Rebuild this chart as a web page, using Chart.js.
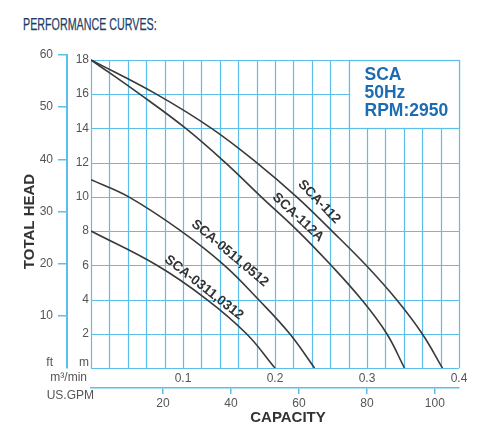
<!DOCTYPE html>
<html>
<head>
<meta charset="utf-8">
<script src="https://cdn.jsdelivr.net/npm/chart.js@4.4.1/dist/chart.umd.min.js"></script>
<style>
    html, body { margin: 0; padding: 0; background: #fff; }
    #wrap { position: relative; width: 486px; height: 437px; overflow: hidden; }
    #heading {
        position: absolute; left: 23px; top: 16px;
        font-family: "Liberation Sans Narrow", "Liberation Sans", sans-serif;
        font-size: 17px; line-height: 17px; color: #1e3d66;
        -webkit-text-stroke: 0.25px #1e3d66;
        white-space: nowrap; transform-origin: left top; transform: scaleX(0.63);
    }
    #chart { position: absolute; left: 0; top: 0; }
</style>
</head>
<body>
<div id="wrap">
    <div id="heading">PERFORMANCE CURVES:</div>
    <canvas id="chart" width="486" height="437"></canvas>
</div>
<script>
// ========================================
// Data (capacity m3/min, total head m)
// ========================================
const curveNames = ['SCA-112', 'SCA-112A', 'SCA-0511,0512', 'SCA-0311,0312'];

const flow112  = [0, 0.071, 0.131, 0.180, 0.2235, 0.262, 0.299, 0.332, 0.360, 0.382];
const head112  = [18, 16, 14, 12, 10, 8, 6, 4, 2, 0];
const flow112A = [0, 0.053, 0.103, 0.146, 0.185, 0.225, 0.261, 0.294, 0.3215, 0.3407];
const head112A = [18, 16, 14, 12, 10, 8, 6, 4, 2, 0];
const flow0511 = [0, 0.041, 0.098, 0.145, 0.182, 0.216, 0.243];
const head0511 = [11, 10, 8, 6, 4, 2, 0];
const flow0311 = [0, 0.0716, 0.126, 0.169, 0.200];
const head0311 = [8, 6, 4, 2, 0];

const headTicksM  = [0, 2, 4, 6, 8, 10, 12, 14, 16, 18];
const headTicksFt = [10, 20, 30, 40, 50, 60];
const flowTicks   = [0.1, 0.2, 0.3, 0.4];
const gpmTicks    = [20, 40, 60, 80, 100];
const infoLines   = ['SCA', '50Hz', 'RPM:2950'];

const FT_PER_M = 3.28084;
const BLUE = '#5cbfea';
const FONT = '"Liberation Sans", Arial, sans-serif';

function toPoints(xs, ys) {
    return xs.map((v, i) => ({ x: v, y: ys[i] }));
}

const curves = [
    toPoints(flow112, head112),
    toPoints(flow112A, head112A),
    toPoints(flow0511, head0511),
    toPoints(flow0311, head0311)
];

// ========================================
// Grid, info box and labels
// ========================================
const pumpSheet = {
    id: 'pumpSheet',
    beforeDatasetsDraw(chart) {
        const { ctx, scales: { x, y } } = chart;
        const x0 = x.getPixelForValue(0), x1 = x.getPixelForValue(0.4);
        const y0 = y.getPixelForValue(0), y1 = y.getPixelForValue(18);
        ctx.save();
        ctx.strokeStyle = BLUE;
        ctx.lineWidth = 1.2;
        ctx.beginPath();
        for (let i = 0; i <= 20; i++) {
            const px = Math.round(x.getPixelForValue(i * 0.02)) + 0.5;
            ctx.moveTo(px, y0); ctx.lineTo(px, y1);
        }
        for (let i = 0; i <= 9; i++) {
            const py = Math.round(y.getPixelForValue(i * 2)) + 0.5;
            ctx.moveTo(x0, py); ctx.lineTo(x1, py);
        }
        ctx.stroke();

        // info box
        const bx = Math.round(x.getPixelForValue(0.28)) + 0.5;
        const by = Math.round(y.getPixelForValue(14)) + 0.5;
        const ty = Math.round(y1) + 0.5;
        ctx.fillStyle = '#fff';
        ctx.fillRect(bx, ty, x1 - bx, by - ty);
        ctx.strokeRect(bx, ty, Math.round(x1) + 0.5 - bx, by - ty);
        ctx.fillStyle = '#1c6cb3';
        ctx.font = 'bold 17.5px ' + FONT;
        ctx.textBaseline = 'middle';
        ctx.textAlign = 'left';
        infoLines.forEach((t, i) => ctx.fillText(t, bx + 15, ty + 14.5 + i * 18.3));
        ctx.restore();
    },
    afterDatasetsDraw(chart) {
        const { ctx, chartArea, scales: { x, y, y2 } } = chart;
        ctx.save();
        // curve names
        const spots = [[0.248, 9.7, 46], [0.225, 8.8, 43], [0.151, 6.7, 40], [0.1228, 4.7, 38]];
        ctx.fillStyle = '#333';
        ctx.font = 'bold 13.5px ' + FONT;
        ctx.textAlign = 'center';
        ctx.textBaseline = 'middle';
        curveNames.forEach((name, i) => {
            const [fx, fy, rot] = spots[i];
            ctx.save();
            ctx.translate(x.getPixelForValue(fx), y.getPixelForValue(fy));
            ctx.rotate(rot * Math.PI / 180);
            ctx.fillText(name, 0, 0);
            ctx.restore();
        });

        // unit labels
        ctx.fillStyle = '#555';
        ctx.font = '12px ' + FONT;
        ctx.textAlign = 'right';
        ctx.fillText('ft', y2.right - 14, chartArea.bottom - 5);
        ctx.fillText('m', y.right - 2, chartArea.bottom - 5);
        ctx.fillText('m\u00b3/min', chartArea.left - 4, chartArea.bottom + 10);
        ctx.fillText('US.GPM', chartArea.left + 3, chartArea.bottom + 28);

        // axis names
        ctx.fillStyle = '#333';
        ctx.font = 'bold 15px ' + FONT;
        ctx.textAlign = 'center';
        ctx.fillText('CAPACITY', (chartArea.left + chartArea.right) / 2 + 13, chartArea.bottom + 50);
        ctx.translate(y2.left + 18, (chartArea.top + chartArea.bottom) / 2 + 10);
        ctx.rotate(-Math.PI / 2);
        ctx.fillText('TOTAL HEAD', 0, 0);
        ctx.restore();
    }
};

// ========================================
// Chart
// ========================================
const setTicks = list => scale => { scale.ticks = list.map(v => ({ value: v })); };

new Chart(document.getElementById('chart'), {
    type: 'scatter',
    data: {
        datasets: curves.map((pts, i) => ({
            label: curveNames[i],
            data: pts,
            showLine: true,
            borderColor: '#3a3a3a',
            borderWidth: 1.6,
            pointRadius: 0,
            tension: 0.4,
            xAxisID: 'x',
            yAxisID: 'y'
        }))
    },
    options: {
        responsive: false,
        animation: false,
        layout: { padding: { left: 12, top: 55, right: 27, bottom: 10 } },
        plugins: {
            legend: { display: false },
            tooltip: { enabled: false }
        },
        scales: {
            x: {
                type: 'linear', position: 'bottom', weight: 0,
                min: 0, max: 0.4,
                afterBuildTicks: setTicks(flowTicks),
                afterFit: s => { s.height = 20; },
                grid: { display: false, drawTicks: false },
                border: { display: false },
                ticks: { padding: 3, color: '#555', font: { size: 12, family: FONT }, maxRotation: 0, autoSkip: false }
            },
            x2: {
                type: 'linear', position: 'bottom', weight: 1,
                min: -1.2, max: 107.1,
                afterBuildTicks: setTicks(gpmTicks),
                afterFit: s => { s.height = 39; },
                grid: { drawOnChartArea: false, drawTicks: true, tickLength: 6, color: BLUE, lineWidth: 1.5 },
                border: { display: true, color: BLUE, width: 1.5 },
                ticks: { padding: 2, color: '#555', font: { size: 12, family: FONT }, maxRotation: 0, autoSkip: false }
            },
            y: {
                type: 'linear', position: 'left', weight: 0,
                min: 0, max: 60 / FT_PER_M,
                afterBuildTicks: setTicks(headTicksM),
                afterFit: s => { s.width = 24; },
                grid: { display: false, drawTicks: false },
                border: { display: false },
                ticks: { padding: 2, color: '#555', font: { size: 12, family: FONT }, autoSkip: false,
                         callback: v => v === 0 ? '' : v }
            },
            y2: {
                type: 'linear', position: 'left', weight: 1,
                min: 0, max: 60,
                afterBuildTicks: setTicks(headTicksFt),
                afterFit: s => { s.width = 55; },
                grid: { drawOnChartArea: false, drawTicks: true, tickLength: 9, color: BLUE, lineWidth: 1.5 },
                border: { display: true, color: BLUE, width: 2 },
                ticks: { padding: 5, color: '#555', font: { size: 12, family: FONT }, autoSkip: false }
            }
        }
    },
    plugins: [pumpSheet]
});
</script>
</body>
</html>
